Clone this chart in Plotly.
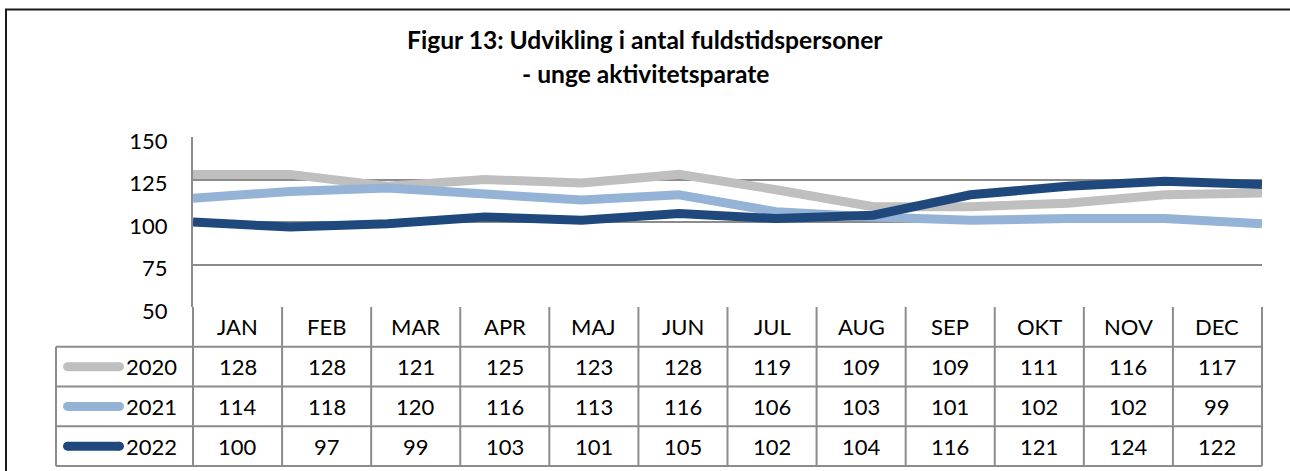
import plotly.graph_objects as go

months = ["JAN", "FEB", "MAR", "APR", "MAJ", "JUN", "JUL", "AUG", "SEP", "OKT", "NOV", "DEC"]
series_names = ["2020", "2021", "2022"]
v2020 = [128, 128, 121, 125, 123, 128, 119, 109, 109, 111, 116, 117]
v2021 = [114, 118, 120, 116, 113, 116, 106, 103, 101, 102, 102, 99]
v2022 = [100, 97, 99, 103, 101, 105, 102, 104, 116, 121, 124, 122]
y_ticks = [50, 75, 100, 125, 150]
title_line1 = "Figur 13: Udvikling i antal fuldstidspersoner"
title_line2 = "- unge aktivitetsparate"

series_values = [v2020, v2021, v2022]
colors = ["#BFBFBF", "#95B3D7", "#1F497D"]

W, H = 1290, 471
FONT = "Lato"
GRID = "#8C8C8C"


def px(x):
    return x / W


def py(y):
    return 1 - y / H


# plot-area pixel geometry
PL, PR, PT, PB = 193, 1262, 137, 307
TL, TB = 56, 466  # table left / bottom
col_w = (PR - PL) / 12.0
row_h = (TB - PB) / 4.0

fig = go.Figure()

for name, vals, c in zip(series_names, series_values, colors):
    fig.add_trace(go.Scatter(
        x=months, y=vals, mode="lines", name=name,
        line=dict(color=c, width=9), xaxis="x", yaxis="y",
        showlegend=False, hoverinfo="skip",
    ))

# x2 / y2 for the data table
x2_left_px, x2_right_px = 50, 1270
x2_r0 = (x2_left_px - PL) / col_w
x2_r1 = (x2_right_px - PL) / col_w
y2_r_bottom = (H - PB) / row_h  # pixel 471 -> value
leg_left = (TL - PL) / col_w

# legend swatches inside the table
for i, (name, c) in enumerate(zip(series_names, colors)):
    yc = i + 1.5
    xa = (67.5 - PL) / col_w
    xb = (119.5 - PL) / col_w
    fig.add_trace(go.Scatter(
        x=[xa, xb], y=[yc, yc], mode="lines+markers",
        line=dict(color=c, width=9), marker=dict(color=c, size=9),
        xaxis="x2", yaxis="y2", showlegend=False, hoverinfo="skip",
    ))

shapes = []
line_style = dict(color=GRID, width=2)
# horizontal table lines
for r in [1, 2, 3, 4]:
    shapes.append(dict(type="line", xref="x2", yref="y2", x0=leg_left, x1=12, y0=r, y1=r, line=line_style))
# vertical table lines
for k in range(13):
    shapes.append(dict(type="line", xref="x2", yref="y2", x0=k, x1=k, y0=0, y1=4, line=line_style))
shapes.append(dict(type="line", xref="x2", yref="y2", x0=leg_left, x1=leg_left, y0=1, y1=4, line=line_style))
# outer chart border
shapes.append(dict(type="rect", xref="paper", yref="paper", x0=px(6), x1=px(1300), y0=py(9.5), y1=py(490),
                   line=dict(color="#1A1A1A", width=2), fillcolor="rgba(0,0,0,0)", layer="above"))

annotations = []
for k, m in enumerate(months):
    annotations.append(dict(x=k + 0.5, y=0.5, xref="x2", yref="y2", text=m, showarrow=False,
                            yanchor="middle", font=dict(family=FONT, size=22, color="black")))
for i, (name, vals) in enumerate(zip(series_names, series_values)):
    for k, v in enumerate(vals):
        annotations.append(dict(x=k + 0.5, y=i + 1.5, xref="x2", yref="y2", text=str(v), showarrow=False,
                                yanchor="middle", font=dict(family=FONT, size=22, color="black")))
    annotations.append(dict(x=(124 - PL) / col_w, y=i + 1.5, xref="x2", yref="y2", text=name, showarrow=False,
                            xanchor="left", yanchor="middle", font=dict(family=FONT, size=22, color="black")))

annotations.append(dict(x=0.5, y=py(40), xref="paper", yref="paper", text="<b>" + title_line1 + "</b>",
                        showarrow=False, yanchor="middle", font=dict(family=FONT, size=24.6, color="black")))
annotations.append(dict(x=0.5, y=py(74), xref="paper", yref="paper", text="<b>" + title_line2 + "</b>",
                        showarrow=False, yanchor="middle", font=dict(family=FONT, size=24.6, color="black")))

fig.update_layout(
    width=W, height=H, autosize=False,
    margin=dict(l=0, r=0, t=0, b=0, pad=0),
    paper_bgcolor="white", plot_bgcolor="rgba(0,0,0,0)",
    xaxis=dict(domain=[px(PL), px(PR)], type="category", range=[0, 11], showticklabels=False,
               showgrid=False, zeroline=False, showline=False, ticks="", anchor="y", fixedrange=True,
               automargin=False),
    yaxis=dict(domain=[py(PB), py(PT)], range=[50, 150], tickvals=y_ticks, showgrid=True,
               gridcolor=GRID, gridwidth=2, zeroline=False, showline=True, linecolor=GRID, linewidth=2,
               ticks="", ticklabelstandoff=19, ticklabelshift=4, automargin=False,
               tickfont=dict(family=FONT, size=22, color="black"), anchor="x", fixedrange=True),
    xaxis2=dict(domain=[px(x2_left_px), px(x2_right_px)], range=[x2_r0, x2_r1], visible=False,
                anchor="y2", fixedrange=True, automargin=False),
    yaxis2=dict(domain=[0, py(PB)], range=[y2_r_bottom, 0], visible=False, anchor="x2", fixedrange=True,
                automargin=False),
    shapes=shapes, annotations=annotations,
    showlegend=False,
)

fig.write_html("out.html", config={"displayModeBar": False},
               post_script="document.body.style.margin='0';document.body.style.overflow='hidden';")
